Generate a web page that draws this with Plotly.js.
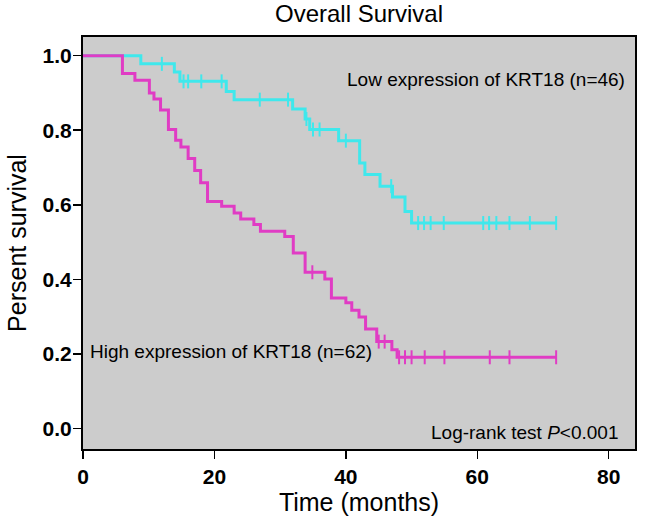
<!DOCTYPE html>
<html>
<head>
<meta charset="utf-8">
<script src="https://cdn.plot.ly/plotly-3.0.1.min.js"></script>
<style>
html,body{margin:0;padding:0;background:#fff;}
#chart{width:666px;height:520px;}
</style>
</head>
<body>
<div id="chart"></div>
<script>
// ---- Data ----
// Low expression of KRT18 (n=46): step times (months) and survival after each step
var lowTimes = [0, 8.8, 13.9, 14.75, 21.8, 23.0, 31.9, 33.8, 34.5, 38.9, 42.1, 42.9, 45.2, 47.1, 49.0, 50.0, 72.0];
var lowSurv  = [1.0, 0.978, 0.956, 0.931, 0.904, 0.882, 0.857, 0.830, 0.802, 0.772, 0.712, 0.681, 0.650, 0.621, 0.582, 0.551, 0.551];
var lowCensor = [12.0, 15.3, 16.0, 18.0, 21.1, 26.9, 31.2, 34.0, 35.0, 36.0, 40.0, 46.9, 51.0, 51.9, 52.9, 54.9, 60.9, 61.8, 62.9, 64.9, 68.0, 72.0];

// High expression of KRT18 (n=62)
var highTimes = [0, 6.0, 7.9, 10.1, 10.8, 11.8, 13.0, 14.1, 14.9, 16.0, 17.0, 17.9, 18.95, 21.1, 23.0, 24.0, 26.0, 27.0, 30.7, 32.0, 33.8, 36.8, 37.8, 40.0, 40.9, 42.0, 43.0, 44.7, 47.0, 47.8, 72.0];
var highSurv  = [1.0, 0.952, 0.934, 0.900, 0.884, 0.854, 0.802, 0.773, 0.755, 0.724, 0.692, 0.659, 0.609, 0.596, 0.578, 0.562, 0.547, 0.529, 0.515, 0.471, 0.419, 0.401, 0.350, 0.337, 0.317, 0.299, 0.267, 0.233, 0.211, 0.191, 0.191];
var highCensor = [34.9, 45.0, 45.9, 48.1, 49.0, 50.0, 52.0, 55.0, 61.9, 64.9, 72.0];

var xTicks = [0, 20, 40, 60, 80];
var yTicks = [0.0, 0.2, 0.4, 0.6, 0.8, 1.0];
var yTickText = ["0.0", "0.2", "0.4", "0.6", "0.8", "1.0"];

var labelLow = "Low expression of KRT18 (n=46)";
var labelHigh = "High expression of KRT18 (n=62)";
var labelTest = "Log-rank test <i>P</i><0.001";

// ---- helpers ----
function survAt(times, surv, t) {
  var s = surv[0];
  for (var i = 0; i < times.length; i++) { if (times[i] <= t) s = surv[i]; }
  return s;
}
var cyan = "#3fe8ec";
var magenta = "#e03cc4";
var fontFam = "Liberation Sans, Arial, sans-serif";

var traces = [
  {x: lowTimes, y: lowSurv, type: "scatter", mode: "lines", line: {shape: "hv", color: cyan, width: 3}, hoverinfo: "skip"},
  {x: lowCensor, y: lowCensor.map(function(t){return survAt(lowTimes, lowSurv, t);}), type: "scatter", mode: "markers",
   marker: {symbol: "line-ns", size: 10, line: {color: cyan, width: 2}}, hoverinfo: "skip"},
  {x: highTimes, y: highSurv, type: "scatter", mode: "lines", line: {shape: "hv", color: magenta, width: 3}, hoverinfo: "skip"},
  {x: highCensor, y: highCensor.map(function(t){return survAt(highTimes, highSurv, t);}), type: "scatter", mode: "markers",
   marker: {symbol: "line-ns", size: 10, line: {color: magenta, width: 2}}, hoverinfo: "skip"}
];

var layout = {
  width: 666, height: 520,
  margin: {l: 83, r: 31, t: 37, b: 71},
  paper_bgcolor: "#ffffff",
  plot_bgcolor: "#cccccc",
  showlegend: false,
  font: {family: fontFam, color: "#000"},
  title: {text: "Overall Survival", font: {size: 24, family: fontFam, color: "#000"},
          xref: "paper", x: 0.5, xanchor: "center", yref: "container", y: 0.974, yanchor: "middle"},
  xaxis: {
    range: [0, 84], tickvals: xTicks, ticktext: xTicks.map(String),
    showgrid: false, zeroline: false,
    showline: true, linecolor: "#000", linewidth: 2, mirror: true,
    ticks: "outside", ticklen: 8, tickwidth: 1.5, tickcolor: "#000",
    tickfont: {size: 21, family: fontFam, color: "#000", weight: "bold"},
    title: {text: "Time (months)", font: {size: 25, family: fontFam, color: "#000"}, standoff: 0}
  },
  yaxis: {
    range: [-0.055, 1.05], tickvals: yTicks, ticktext: yTickText,
    showgrid: false, zeroline: false,
    showline: true, linecolor: "#000", linewidth: 2, mirror: true,
    ticks: "outside", ticklen: 8, tickwidth: 1.5, tickcolor: "#000",
    ticklabelstandoff: -3,
    tickfont: {size: 21, family: fontFam, color: "#000", weight: "bold"},
    title: {text: "Persent survival", font: {size: 25, family: fontFam, color: "#000"}, standoff: 9}
  },
  annotations: [
    {text: labelLow, x: 39.85, y: 0.936, xref: "x", yref: "y", xanchor: "left", yanchor: "middle", showarrow: false,
     font: {size: 19, family: fontFam, color: "#000"}},
    {text: labelHigh, x: 0.76, y: 0.206, xref: "x", yref: "y", xanchor: "left", yanchor: "middle", showarrow: false,
     font: {size: 19, family: fontFam, color: "#000"}},
    {text: labelTest, x: 81.8, y: -0.012, xref: "x", yref: "y", xanchor: "right", yanchor: "middle", showarrow: false,
     font: {size: 19, family: fontFam, color: "#000"}}
  ]
};

Plotly.newPlot("chart", traces, layout, {displayModeBar: false, staticPlot: true});
</script>
</body>
</html>
